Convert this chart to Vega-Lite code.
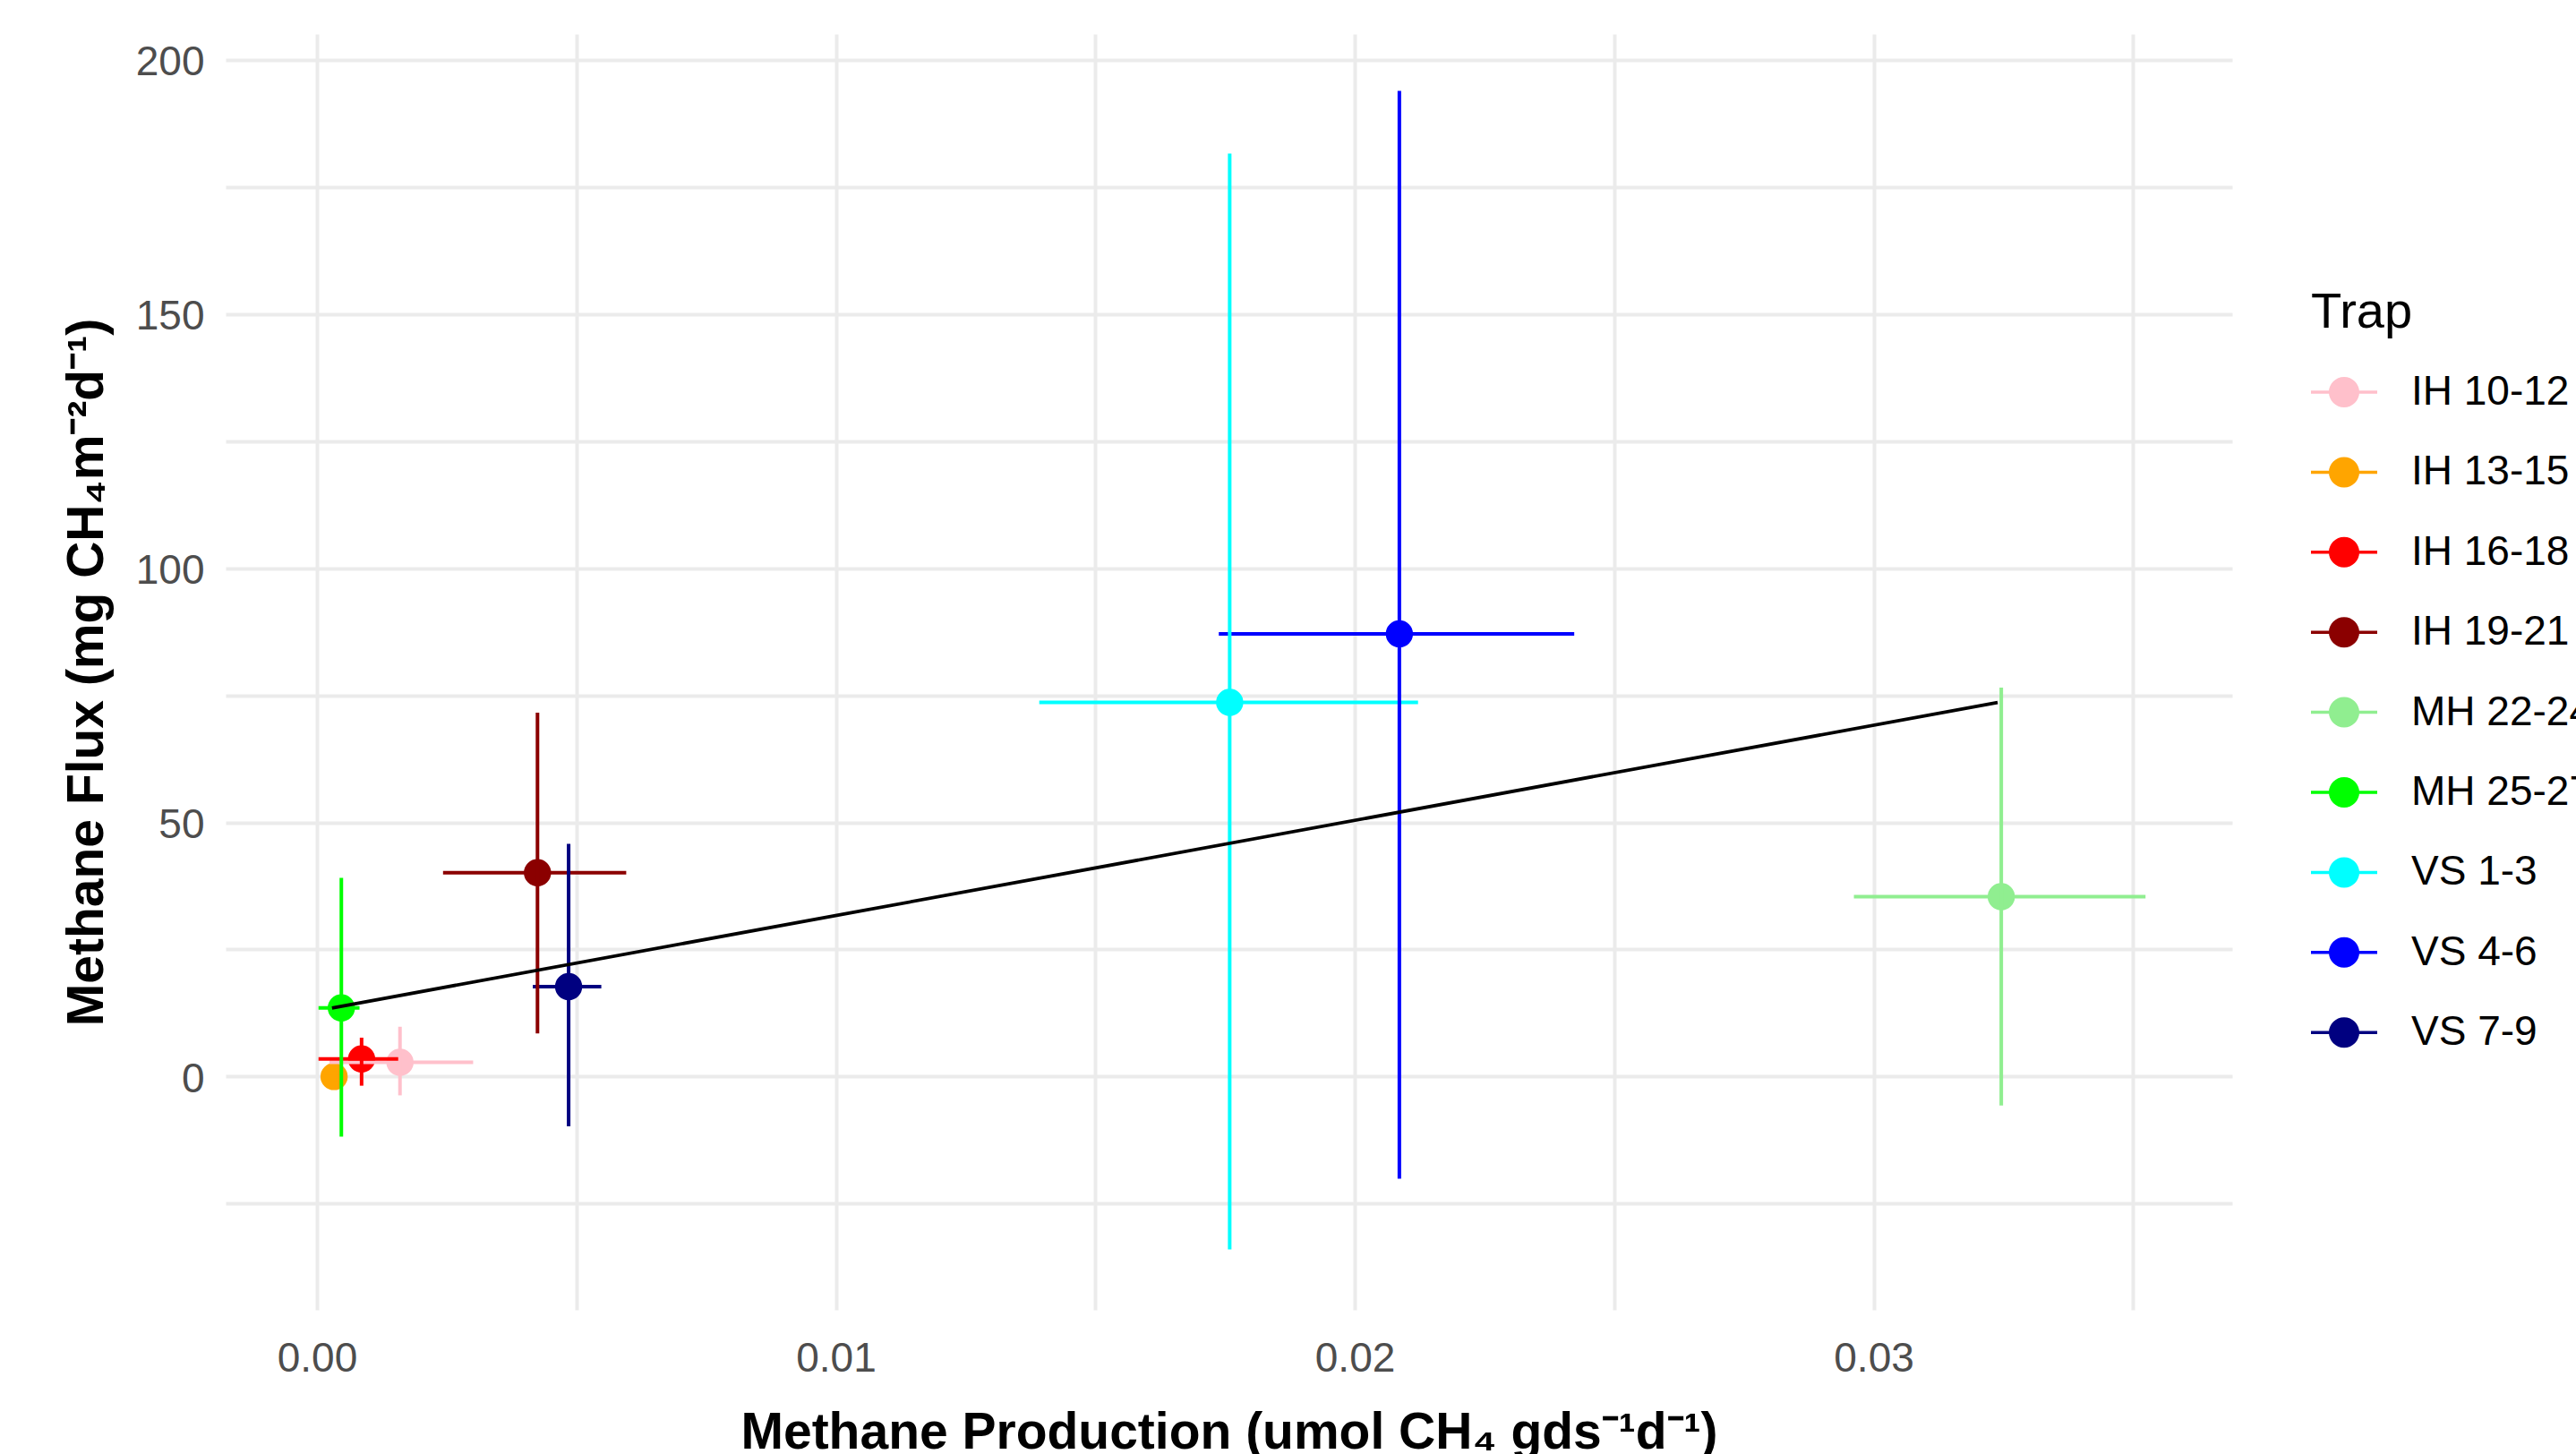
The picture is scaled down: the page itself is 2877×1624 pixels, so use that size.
{
  "$schema": "https://vega.github.io/schema/vega-lite/v6.json",
  "width": 2241,
  "height": 1425,
  "autosize": {"type": "none"},
  "padding": {"left": 252, "top": 38, "right": 384, "bottom": 161},
  "background": "white",
  "config": {
    "view": {"stroke": null},
    "font": "Liberation Sans",
    "axis": {
      "domain": false,
      "ticks": false,
      "tickSize": 0,
      "grid": true,
      "gridColor": "#EBEBEB",
      "gridWidth": 4,
      "labelFont": "Liberation Sans",
      "labelFontSize": 46,
      "labelColor": "#4D4D4D",
      "labelOverlap": false,
      "labelFlush": false,
      "titleFont": "Liberation Sans",
      "titleFontSize": 57,
      "titleFontWeight": "bold",
      "titleColor": "#000000"
    }
  },
  "data": {
    "values": [
      {"trap": "IH 10-12", "x": 0.0016, "y": 2.8, "xmin": 0.00024, "xmax": 0.00301, "ymin": -3.7, "ymax": 9.8},
      {"trap": "IH 13-15", "x": 0.00033, "y": 0.0, "xmin": 0.00015, "xmax": 0.0005, "ymin": -1.0, "ymax": 1.0},
      {"trap": "IH 16-18", "x": 0.00086, "y": 3.45, "xmin": 0.00003, "xmax": 0.00161, "ymin": -1.8, "ymax": 7.65},
      {"trap": "IH 19-21", "x": 0.00425, "y": 40.1, "xmin": 0.00243, "xmax": 0.00596, "ymin": 8.5, "ymax": 71.6},
      {"trap": "MH 22-24", "x": 0.03246, "y": 35.4, "xmin": 0.02962, "xmax": 0.03524, "ymin": -5.7, "ymax": 76.5},
      {"trap": "MH 25-27", "x": 0.00047, "y": 13.5, "xmin": 0.00003, "xmax": 0.00082, "ymin": -11.8, "ymax": 39.1},
      {"trap": "VS 1-3", "x": 0.01759, "y": 73.6, "xmin": 0.01392, "xmax": 0.02122, "ymin": -34.0, "ymax": 181.6},
      {"trap": "VS 4-6", "x": 0.02086, "y": 87.1, "xmin": 0.01738, "xmax": 0.02423, "ymin": -20.1, "ymax": 193.9},
      {"trap": "VS 7-9", "x": 0.00485, "y": 17.7, "xmin": 0.00416, "xmax": 0.00548, "ymin": -9.8, "ymax": 45.8}
    ]
  },
  "layer": [
    {
      "mark": {"type": "point", "shape": "circle", "filled": true, "size": 924, "opacity": 1, "strokeWidth": 0},
      "encoding": {
        "x": {
          "field": "x", "type": "quantitative",
          "scale": {"domain": [-0.00176, 0.03691], "nice": false, "zero": false},
          "axis": {
            "values": [0, 0.005, 0.01, 0.015, 0.02, 0.025, 0.03, 0.035],
            "labelExpr": "abs(datum.value*100 - round(datum.value*100)) < 0.000001 ? format(datum.value, '.2f') : ''",
            "labelPadding": 32,
            "title": "Methane Production (umol CH₄ gds⁻¹d⁻¹)",
            "titleX": 1120.5,
            "titleY": 154,
            "titleBaseline": "alphabetic",
            "titleAlign": "center"
          }
        },
        "y": {
          "field": "y", "type": "quantitative",
          "scale": {"domain": [-45.9, 205.1], "nice": false, "zero": false},
          "axis": {
            "values": [-25, 0, 25, 50, 75, 100, 125, 150, 175, 200],
            "labelExpr": "datum.value % 50 === 0 ? datum.label : ''",
            "labelPadding": 24,
            "labelOffset": 3,
            "title": "Methane Flux (mg CH₄m⁻²d⁻¹)",
            "titleX": -138,
            "titleY": 712.5,
            "titleAngle": -90,
            "titleBaseline": "alphabetic",
            "titleAlign": "center"
          }
        },
        "color": {
          "field": "trap", "type": "nominal",
          "scale": {
            "domain": ["IH 10-12", "IH 13-15", "IH 16-18", "IH 19-21", "MH 22-24", "MH 25-27", "VS 1-3", "VS 4-6", "VS 7-9"],
            "range": ["#FFC0CB", "#FFA500", "#FF0000", "#8B0000", "#90EE90", "#00FF00", "#00FFFF", "#0000FF", "#000080"]
          },
          "legend": {
            "title": "Trap",
            "orient": "none",
            "legendX": 2329,
            "legendY": 284,
            "padding": 0,
            "titleFont": "Liberation Sans",
            "titleFontSize": 56,
            "titleFontWeight": "normal",
            "titleColor": "#000000",
            "titlePadding": 23,
            "labelFont": "Liberation Sans",
            "labelFontSize": 46,
            "labelColor": "#000000",
            "labelOffset": 38,
            "labelLimit": 0,
            "rowPadding": 29.4,
            "symbolType": "M-1,-0.047L1,-0.047L1,0.047L-1,0.047Z M0.46,0A0.46,0.46 0 1,1 -0.46,0A0.46,0.46 0 1,1 0.46,0Z",
            "symbolSize": 5476,
            "symbolStrokeWidth": 0,
            "symbolOpacity": 1
          }
        }
      }
    },
    {
      "mark": {"type": "rule", "strokeWidth": 4},
      "encoding": {
        "x": {"field": "xmin", "type": "quantitative"},
        "x2": {"field": "xmax"},
        "y": {"field": "y", "type": "quantitative"},
        "color": {"field": "trap", "type": "nominal", "legend": null}
      }
    },
    {
      "mark": {"type": "rule", "strokeWidth": 4},
      "encoding": {
        "x": {"field": "x", "type": "quantitative"},
        "y": {"field": "ymin", "type": "quantitative"},
        "y2": {"field": "ymax"},
        "color": {"field": "trap", "type": "nominal", "legend": null}
      }
    },
    {
      "data": {"values": [
        {"x": 0.00029, "y": 13.5},
        {"x": 0.03239, "y": 73.6}
      ]},
      "mark": {"type": "line", "color": "#000000", "strokeWidth": 3.8},
      "encoding": {
        "x": {"field": "x", "type": "quantitative"},
        "y": {"field": "y", "type": "quantitative"}
      }
    }
  ]
}
